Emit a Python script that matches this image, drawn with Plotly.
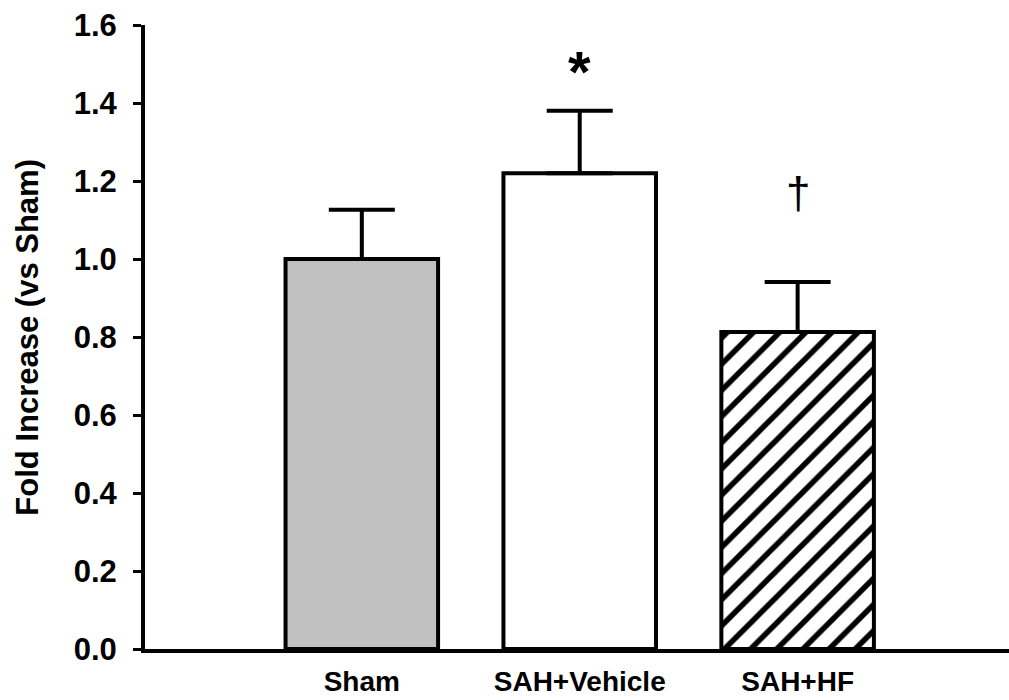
import plotly.graph_objects as go

categories = ["Sham", "SAH+Vehicle", "SAH+HF"]
values = [1.0, 1.22, 0.813]
errors_up = [0.126, 0.16, 0.128]
fills = ["#c0c0c0", "#ffffff", "#ffffff"]
patterns = ["", "", "/"]
marks = ["", "*", "†"]
mark_y = [None, 1.482, 1.17]
y_ticks = [0.0, 0.2, 0.4, 0.6, 0.8, 1.0, 1.2, 1.4, 1.6]

FONT = "Liberation Sans, Arial, sans-serif"

fig = go.Figure()
for i, cat in enumerate(categories):
    fig.add_trace(go.Bar(
        x=[i], y=[values[i]], width=0.70,
        marker=dict(
            color=fills[i],
            line=dict(color="black", width=4),
            pattern=dict(shape=patterns[i], fgcolor="black", bgcolor="white",
                         fgopacity=1, size=18.5, solidity=0.3, fillmode="overlay"),
        ),
        error_y=dict(type="data", array=[errors_up[i]], arrayminus=[0],
                     symmetric=False, color="black", thickness=4, width=33),
        showlegend=False,
    ))

for i, m in enumerate(marks):
    if m:
        fig.add_annotation(
            x=i, y=mark_y[i], text=("<b>%s</b>" % m) if m == "*" else m,
            showarrow=False, xref="x", yref="y",
            font=dict(family=FONT, size=58 if m == "*" else 44, color="black"),
        )

fig.add_annotation(
    x=-0.137, y=0.5, xref="paper", yref="paper", textangle=-90,
    xanchor="center", yanchor="middle",
    text="<b>Fold Increase (vs Sham)</b>", showarrow=False,
    font=dict(family=FONT, size=31, color="black"),
)

fig.update_layout(
    width=1009, height=700,
    margin=dict(l=145, r=0, t=25, b=51, pad=0),
    paper_bgcolor="white", plot_bgcolor="white",
    barmode="overlay",
    font=dict(family=FONT, color="black"),
)
fig.update_xaxes(
    range=[-0.995, 2.97],
    tickmode="array", tickvals=list(range(len(categories))),
    ticktext=["<b>%s</b>" % c for c in categories],
    tickfont=dict(family=FONT, size=28, color="black"),
    showline=True, linecolor="black", linewidth=4,
    ticks="", showgrid=False, zeroline=False,
    ticklabelstandoff=4,
)
fig.update_yaxes(
    range=[0, 1.6],
    tickmode="array", tickvals=y_ticks,
    ticktext=["<b>%.1f</b>" % v for v in y_ticks],
    tickfont=dict(family=FONT, size=31, color="black"),
    showline=True, linecolor="black", linewidth=4,
    ticks="outside", ticklen=8, tickwidth=3, tickcolor="black",
    showgrid=False, zeroline=False,
    ticklabelstandoff=10,
)

fig.write_html("out.html", config={"displayModeBar": False},
               post_script="document.body.style.margin='0';")
